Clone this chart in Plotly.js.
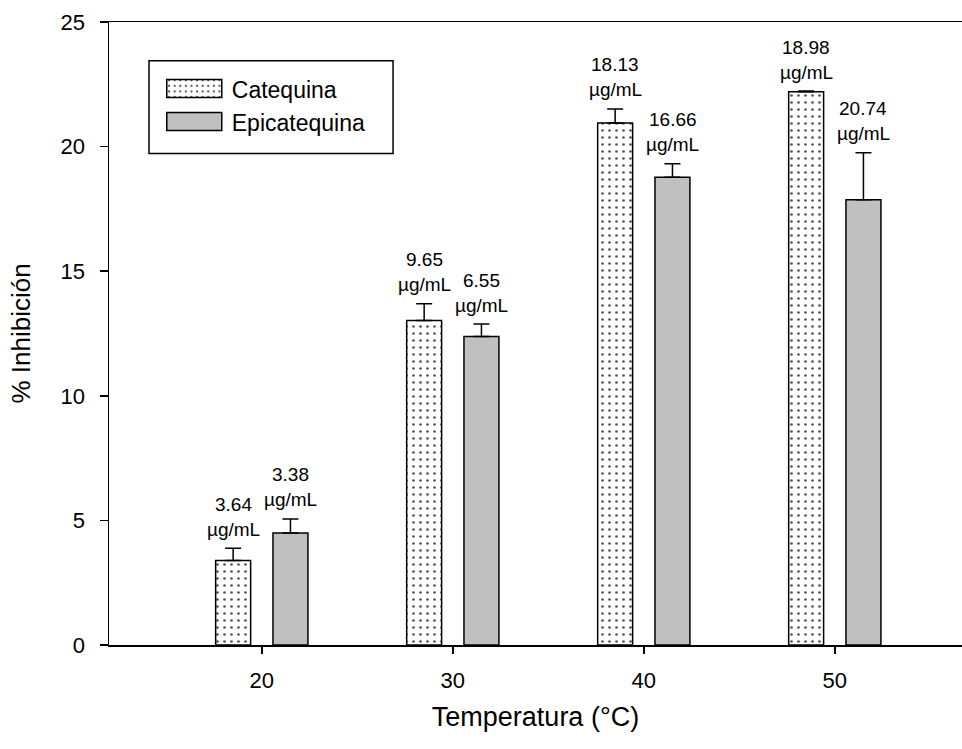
<!DOCTYPE html>
<html>
<head>
<meta charset="utf-8">
<script src="https://cdn.plot.ly/plotly-3.0.1.min.js"></script>
<style>
  html, body { margin: 0; padding: 0; background: #fff; }
  #chart { width: 962px; height: 749px; }
</style>
</head>
<body>
<div id="chart"></div>
<script>
// Temperatures tested (°C)
const temperatures = [20, 30, 40, 50];

// % inhibition, mean values
const catequina = [3.39, 13.02, 20.95, 22.20];
const epicatequina = [4.49, 12.38, 18.77, 17.87];

// Standard deviation (upper error bars only)
const catequinaErr = [0.49, 0.67, 0.56, 0.03];
const epicatequinaErr = [0.57, 0.50, 0.54, 1.88];

// Concentration labels shown above each bar
const catequinaConc = ['3.64', '9.65', '18.13', '18.98'];
const epicatequinaConc = ['3.38', '6.55', '16.66', '20.74'];
const concUnit = 'µg/mL';

const FONT = 'Arial, "Liberation Sans", Helvetica, sans-serif';
const zeros = temperatures.map(() => 0);

const traces = [
  {
    type: 'bar',
    name: 'Catequina',
    x: temperatures,
    y: catequina,
    marker: {
      color: '#ffffff',
      line: { color: '#000', width: 1.5 },
      pattern: { shape: '.', fgcolor: '#555', bgcolor: '#ffffff', size: 7, solidity: 0.12 }
    },
    error_y: {
      type: 'data', symmetric: false, array: catequinaErr, arrayminus: zeros,
      color: '#000', thickness: 1.5, width: 8
    },
    hoverinfo: 'skip'
  },
  {
    type: 'bar',
    name: 'Epicatequina',
    x: temperatures,
    y: epicatequina,
    marker: {
      color: '#c0c0c0',
      line: { color: '#000', width: 1.5 }
    },
    error_y: {
      type: 'data', symmetric: false, array: epicatequinaErr, arrayminus: zeros,
      color: '#000', thickness: 1.5, width: 8
    },
    hoverinfo: 'skip'
  }
];

// Two-line labels (concentration + unit) above each error bar
const GROUP_OFFSET = 28.7;
function concLabels(values, errs, conc, shift) {
  const out = [];
  temperatures.forEach((t, i) => {
    const top = values[i] + errs[i];
    [[conc[i], 44], [concUnit, 19]].forEach(([txt, dy]) => {
      out.push({
        x: t, y: top, xref: 'x', yref: 'y',
        text: txt, showarrow: false,
        xanchor: 'center', yanchor: 'middle',
        xshift: shift, yshift: dy,
        font: { family: FONT, size: 19, color: '#000' }
      });
    });
  });
  return out;
}

const annotations = [
  ...concLabels(catequina, catequinaErr, catequinaConc, -GROUP_OFFSET),
  ...concLabels(epicatequina, epicatequinaErr, epicatequinaConc, GROUP_OFFSET)
];

const layout = {
  width: 962,
  height: 749,
  margin: { l: 109, r: 0, t: 22, b: 104 },
  paper_bgcolor: '#fff',
  plot_bgcolor: '#fff',
  font: { family: FONT, color: '#000' },
  barmode: 'group',
  bargap: 0.4,
  bargroupgap: 0.39,
  showlegend: true,
  legend: {
    x: 0.056, y: 0.9275, xanchor: 'left', yanchor: 'top',
    bgcolor: 'rgba(0,0,0,0)', borderwidth: 0,
    font: { family: FONT, size: 23, color: '#000' },
    itemwidth: 65
  },
  xaxis: {
    range: [12, 56.66],
    tickvals: temperatures,
    ticks: 'outside', ticklen: 7, tickwidth: 1.5, tickcolor: '#000',
    showline: true, linecolor: '#000', linewidth: 1.5, mirror: true,
    showgrid: false, zeroline: false,
    ticklabelstandoff: 8,
    tickfont: { family: FONT, size: 22, color: '#000' },
    title: { text: 'Temperatura (°C)', font: { family: FONT, size: 27, color: '#000' }, standoff: 15 }
  },
  yaxis: {
    range: [0, 25],
    dtick: 5,
    ticks: 'outside', ticklen: 8, tickwidth: 1.5, tickcolor: '#000',
    showline: true, linecolor: '#000', linewidth: 1.5,
    showgrid: false, zeroline: false,
    ticklabelstandoff: 10,
    tickfont: { family: FONT, size: 22, color: '#000' },
    title: { text: '% Inhibición', font: { family: FONT, size: 26, color: '#000' }, standoff: 22 }
  },
  shapes: [
    {
      type: 'rect', xref: 'paper', yref: 'paper',
      x0: 0.0469, x1: 0.333, y0: 0.789, y1: 0.938,
      line: { color: '#000', width: 1.5 }, fillcolor: 'rgba(0,0,0,0)', layer: 'above'
    }
  ],
  annotations: annotations
};

Plotly.newPlot('chart', traces, layout, { displayModeBar: false, staticPlot: true }).then(gd => {
  // Wider rectangular legend swatches
  gd.querySelectorAll('.legend .legendpoints path').forEach(p => {
    p.setAttribute('d', 'M-27.5,9H27.5V-9H-27.5Z');
  });
});
</script>
</body>
</html>
